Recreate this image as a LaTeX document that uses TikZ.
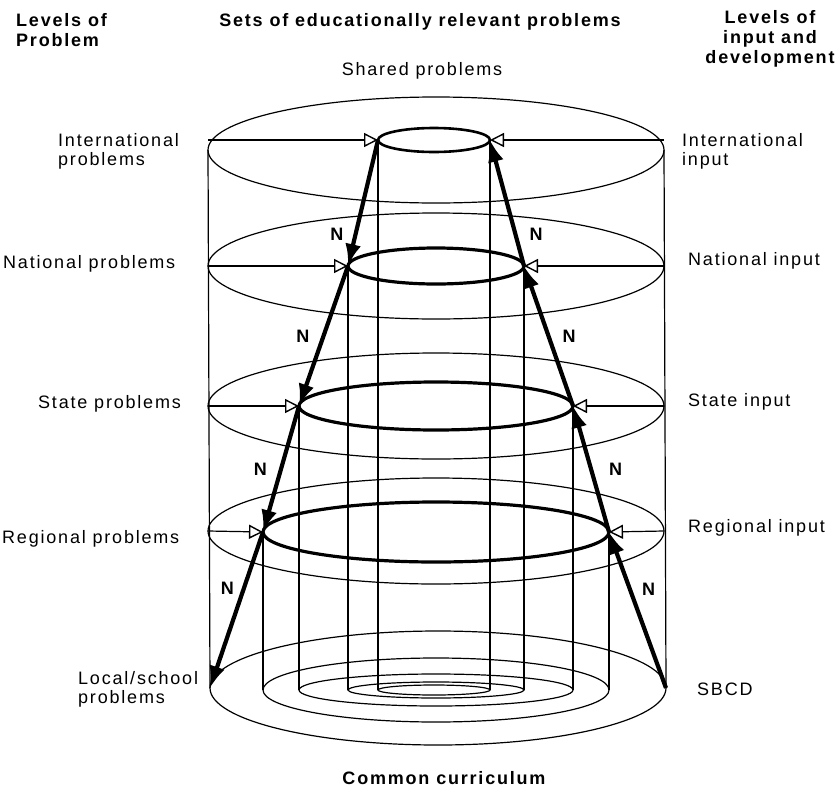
\documentclass[tikz,border=0pt]{standalone}
\usepackage{fontspec}
\setmainfont{Liberation Sans}[LetterSpace=10]
\usetikzlibrary{shapes.geometric, arrows.meta}

\begin{document}
\begin{tikzpicture}[x=1pt, y=-1pt]

\tikzset{ring/.style = {shape=ellipse, draw, line width=1.2pt, inner sep=0pt, outer sep=0pt}}
\tikzset{set/.style = {ring, line width=3.2pt}}
\tikzset{rim/.style = {line width=1.2pt}}
\tikzset{input/.style = {-{Triangle[open, length=14pt, width=14pt, line width=1.4pt]}, line width=1.2pt}}
\tikzset{flow/.style = {-{Latex[length=22pt, width=16pt]}, line width=4.2pt}}
\tikzset{txt/.style = {inner sep=0pt, font=\fontsize{18}{19}\selectfont}}
\tikzset{head/.style = {inner sep=0pt, font=\fontsize{18}{20}\selectfont\bfseries}}
\useasboundingbox (0,0) rectangle (840,798);

%levels
\node[ring, minimum width=456pt, minimum height=106pt] (intl) at (436,150) {};
\node[ring, minimum width=456pt, minimum height=106pt] (natl) at (436,266) {};
\node[ring, minimum width=456pt, minimum height=106pt] (state) at (436,406) {};
\node[ring, minimum width=456pt, minimum height=106pt] (reg) at (436,531) {};
\node[ring, minimum width=456pt, minimum height=114pt] (local) at (438,688) {};

%sets of problems
\node[set, line width=2.6pt, minimum width=112pt, minimum height=24pt] (intlset) at (434,140) {};
\node[set, minimum width=176pt, minimum height=36pt] (natlset) at (436,266) {};
\node[set, minimum width=274pt, minimum height=48pt] (stateset) at (436,406) {};
\node[set, minimum width=346pt, minimum height=60pt] (regset) at (436,532) {};

%rings of the common curriculum
\node[ring, minimum width=112pt, minimum height=10pt] (intlbase) at (434,690) {};
\node[ring, minimum width=176pt, minimum height=16pt] (natlbase) at (436,690) {};
\node[ring, minimum width=274pt, minimum height=32pt] (statebase) at (436,690) {};
\node[ring, minimum width=346pt, minimum height=64pt] (regbase) at (436,690) {};

%walls
\draw[rim] (intl.west) -- (local.west);
\draw[rim] (intl.east) -- (local.east);
\draw[rim] (intlset.west) -- (intlbase.west);
\draw[rim] (intlset.east) -- (intlbase.east);
\draw[rim] (natlset.west) -- (natlbase.west);
\draw[rim] (natlset.east) -- (natlbase.east);
\draw[rim] (stateset.west) -- (statebase.west);
\draw[rim] (stateset.east) -- (statebase.east);
\draw[rim] (regset.west) -- (regbase.west);
\draw[rim] (regset.east) -- (regbase.east);

%inputs
\draw[input] (intl.west |- intlset) -- (intlset.west);
\draw[input] (intl.east |- intlset) -- (intlset.east);
\draw[input] (natl.west) -- (natlset.west);
\draw[input] (natl.east) -- (natlset.east);
\draw[input] (state.west) -- (stateset.west);
\draw[input] (state.east) -- (stateset.east);
\draw[input] (reg.west) -- (regset.west);
\draw[input] (reg.east) -- (regset.east);

%negotiation
\draw[flow] (intlset.west) -- (natlset.west) node[head, pos=0.75, left=10pt] {N};
\draw[flow] (natlset.west) -- (stateset.west) node[head, midway, left=12pt] {N};
\draw[flow] (stateset.west) -- (regset.west) node[head, midway, left=12pt] {N};
\draw[flow] (regset.west) -- (local.west) node[head, pos=0.36, left=8pt] {N};
\draw[flow] (local.east) -- (regset.east) node[head, pos=0.63, right=10pt] {N};
\draw[flow] (regset.east) -- (stateset.east) node[head, midway, right=16pt] {N};
\draw[flow] (stateset.east) -- (natlset.east) node[head, midway, right=12pt] {N};
\draw[flow] (natlset.east) -- (intlset.east) node[head, pos=0.25, right=12pt] {N};

%labels
\node[head, anchor=north west, align=left] (levprob) at (16,13) {Levels of\\Problem};
\node[head, anchor=north] (sets) at (420,13) {Sets of educationally relevant problems};
\node[head, anchor=north, align=center] (levinput) at (770,10) {Levels of\\input and\\development};
\node[txt, anchor=north] (shared) at (422,62) {Shared problems};
\node[txt, anchor=north west, align=left] (intlprob) at (58,133) {International\\problems};
\node[txt, anchor=north west] (natlprob) at (3,255) {National problems};
\node[txt, anchor=north west] (stateprob) at (38,395) {State problems};
\node[txt, anchor=north west] (regprob) at (2,530) {Regional problems};
\node[txt, anchor=north west, align=left] (localprob) at (78,671) {Local/school\\problems};
\node[txt, anchor=north west, align=left] (intlin) at (682,133) {International\\input};
\node[txt, anchor=north west] (natlin) at (688,252) {National input};
\node[txt, anchor=north west] (statein) at (688,393) {State input};
\node[txt, anchor=north west] (regin) at (688,519) {Regional input};
\node[txt, anchor=north west] (sbcd) at (697,683) {SBCD};
\node[head, anchor=north] (common) at (444,771) {Common curriculum};

\end{tikzpicture}
\end{document}
